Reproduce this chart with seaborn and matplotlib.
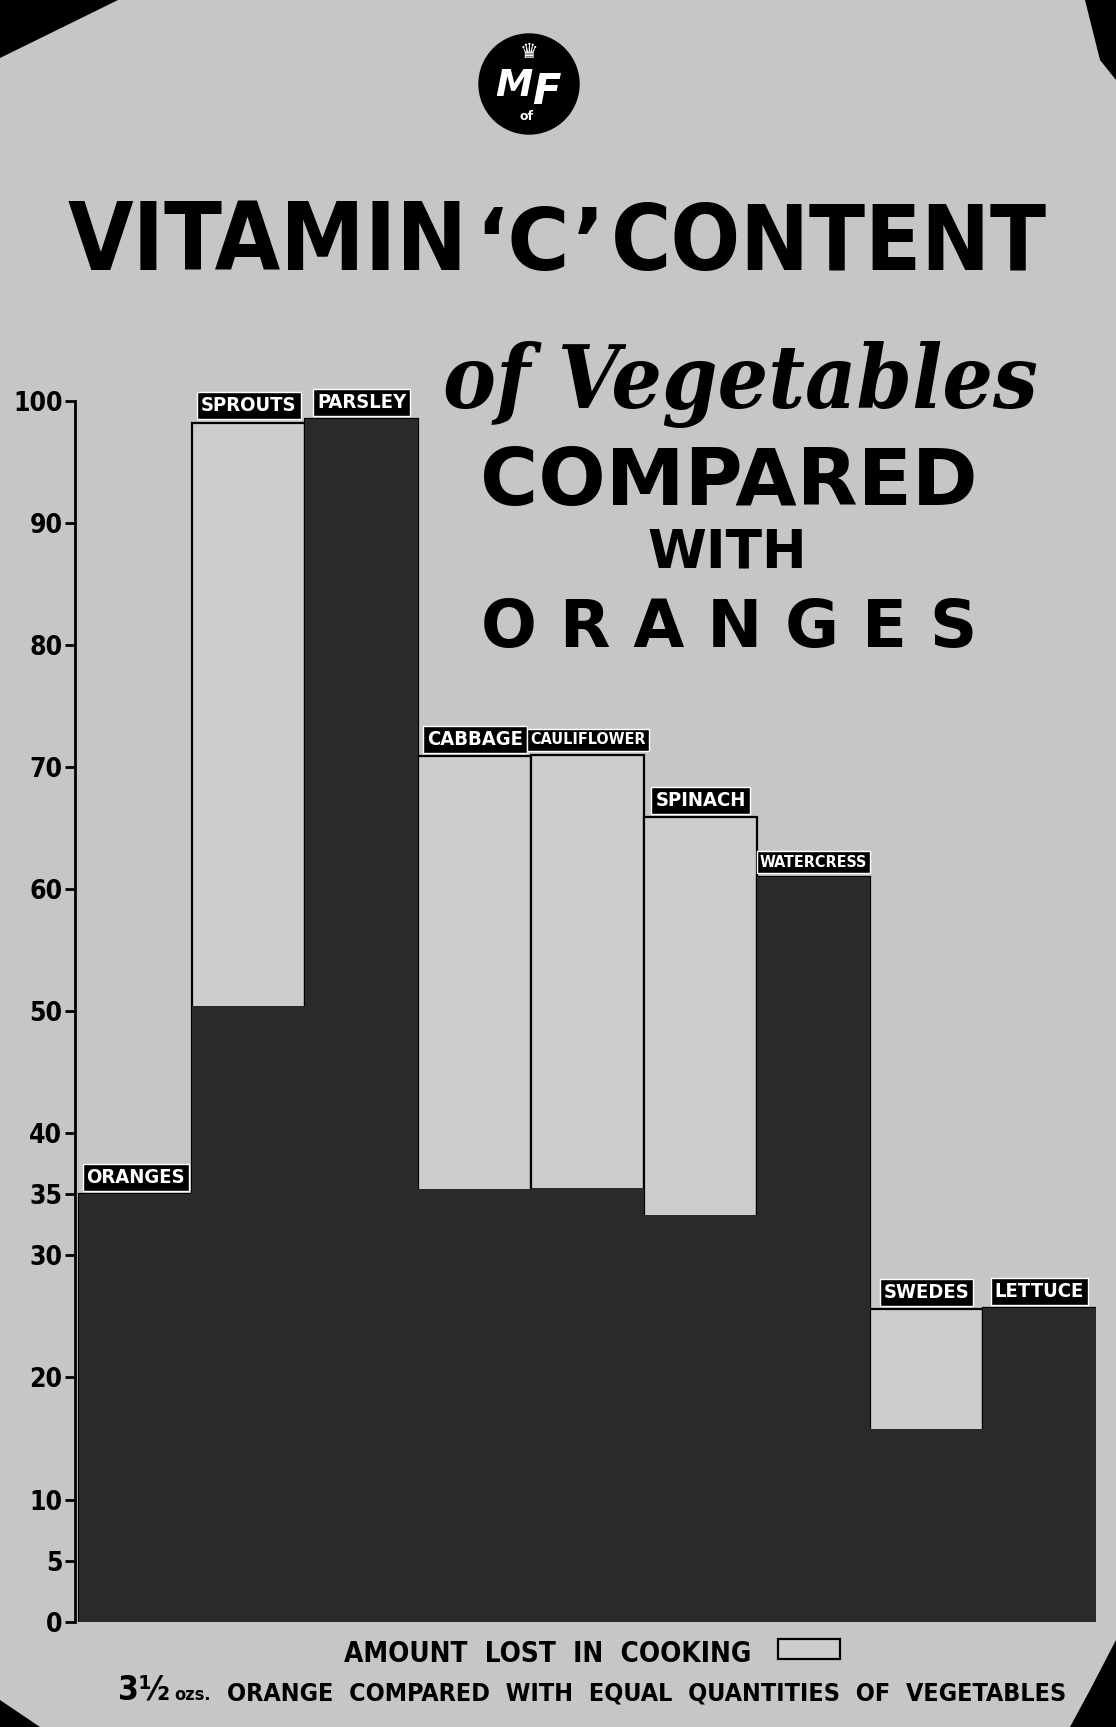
import matplotlib
matplotlib.use('Agg')
import matplotlib.pyplot as plt
import seaborn as sns
from matplotlib import font_manager
from matplotlib.patches import Ellipse, Rectangle, Polygon

# Values (mg vitamin C per 3 1/2 ozs.)
vegetables = ['ORANGES', 'SPROUTS', 'PARSLEY', 'CABBAGE', 'CAULIFLOWER',
              'SPINACH', 'WATERCRESS', 'SWEDES', 'LETTUCE']
raw_content = [35, 98.2, 98.5, 70.9, 71.0, 65.9, 61.0, 25.6, 25.7]
after_cooking = [35, 50.4, 98.5, 35.4, 35.5, 33.3, 61.0, 15.8, 25.7]
y_ticks = [0, 5, 10, 20, 30, 35, 40, 50, 60, 70, 80, 90, 100]

paper = '#c6c6c6'
box_fill = '#cdcdcd'
ink = '#2a2a2a'

sns.set_style('white')
available = {f.name for f in font_manager.fontManager.ttflist}
narrow = 'Liberation Sans Narrow' if 'Liberation Sans Narrow' in available else 'DejaVu Sans'
plt.rcParams['font.family'] = ['DejaVu Sans']

fig = plt.figure(figsize=(11.16, 17.27), dpi=100)
fig.patch.set_facecolor(paper)
ax = fig.add_axes([0.0671, 0.061, 0.915, 0.707])
ax.set_facecolor('none')

# light boxes = vitamin C before cooking, dark = what is left after
sns.barplot(x=vegetables, y=raw_content, order=vegetables, width=1.0, color=box_fill,
            edgecolor='black', linewidth=1.6, saturation=1, errorbar=None, ax=ax)
sns.barplot(x=vegetables, y=after_cooking, order=vegetables, width=1.0, color=ink,
            linewidth=0, saturation=1, errorbar=None, ax=ax)

ax.set_xlim(-0.54, 8.5)
ax.set_ylim(0, 100)
ax.set_xticks([])
ax.set_xlabel('')
ax.set_yticks(y_ticks)
ax.set_yticklabels([str(t) for t in y_ticks], fontfamily=narrow, fontweight='bold',
                   fontsize=19, fontstretch='condensed')
ax.tick_params(axis='y', length=7, width=2, color='black', labelcolor='black', pad=2, left=True)
for s in ['top', 'right', 'bottom']:
    ax.spines[s].set_visible(False)
ax.spines['left'].set_linewidth(2)
ax.spines['left'].set_color('black')

for i, name in enumerate(vegetables):
    small = len(name) > 8
    ax.text(i, raw_content[i] + 0.6, name, ha='center', va='bottom', color='white',
            fontfamily=narrow, fontweight='bold', fontstretch='condensed',
            fontsize=11.5 if small else 14.5,
            bbox=dict(boxstyle='square,pad=0.2', fc='black', ec='white', lw=1))

fig.canvas.draw()
renderer = fig.canvas.get_renderer()


def fit(t, width_px):
    w = t.get_window_extent(renderer).width
    t.set_fontsize(t.get_fontsize() * width_px / w)


W, H = 1116, 1727

# torn corners of the old poster
for pts in [[(0, 0), (118, 0), (0, 58)],
            [(1085, 0), (1116, 0), (1116, 80), (1100, 60)],
            [(0, 1700), (40, 1727), (0, 1727)],
            [(1090, 1690), (1116, 1640), (1116, 1727), (1070, 1727)]]:
    fig.patches.append(Polygon([(x / W, 1 - y / H) for x, y in pts], closed=True,
                               transform=fig.transFigure, fc='black', ec='none'))

# logo
fig.patches.append(Ellipse((529 / W, 1 - 84 / H), 100 / W, 100 / H, transform=fig.transFigure,
                           fc='black', ec='black'))
fig.text(529 / W, 1 - 52 / H, '\u265b', ha='center', va='center', color='white', fontsize=15)
fig.text(514 / W, 1 - 86 / H, 'M', ha='center', va='center', color='white',
         fontsize=27, fontweight='bold', fontstyle='italic')
fig.text(546 / W, 1 - 92 / H, 'F', ha='center', va='center', color='white',
         fontsize=30, fontweight='bold', fontstyle='italic')
fig.text(527 / W, 1 - 116 / H, 'of', ha='center', va='center', color='white',
         fontsize=9, fontweight='bold')

# title
t1 = fig.text(68 / W, 1 - 270 / H, 'VITAMIN', ha='left', va='baseline', color='black',
              fontfamily=narrow, fontweight='heavy', fontstretch='condensed', fontsize=80)
fit(t1, 400)
t2 = fig.text(540 / W, 1 - 270 / H, '\u2018C\u2019', ha='center', va='baseline', color='black',
              fontfamily='DejaVu Sans', fontweight='bold', fontsize=100)
fit(t2, 130)
t3 = fig.text(611 / W, 1 - 270 / H, 'CONTENT', ha='left', va='baseline', color='black',
              fontfamily=narrow, fontweight='heavy', fontstretch='condensed', fontsize=80)
fit(t3, 436)

t4 = fig.text(740 / W, 1 - 408 / H, 'of Vegetables', ha='center', va='baseline', color='black',
              fontfamily='DejaVu Serif', fontstyle='italic', fontweight='bold',
              fontstretch='condensed', fontsize=80)
fit(t4, 595)
t5 = fig.text(729 / W, 1 - 505 / H, 'COMPARED', ha='center', va='baseline', color='black',
              fontfamily='DejaVu Sans', fontweight='bold', fontsize=60)
fit(t5, 497)
t6 = fig.text(727 / W, 1 - 568 / H, 'WITH', ha='center', va='baseline', color='black',
              fontfamily='DejaVu Sans', fontweight='bold', fontsize=42)
fit(t6, 160)
t7 = fig.text(729 / W, 1 - 647 / H, 'O R A N G E S', ha='center', va='baseline', color='black',
              fontfamily='DejaVu Sans', fontweight='bold', fontsize=55)
fit(t7, 497)

# footer
t8 = fig.text(548 / W, 1 - 1662 / H, 'AMOUNT  LOST  IN  COOKING', ha='center', va='baseline',
              color='black', fontfamily=narrow, fontweight='bold', fontstretch='condensed',
              fontsize=22)
fit(t8, 406)
fig.patches.append(Rectangle((778 / W, 1 - 1659 / H), 62 / W, 20 / H,
                             transform=fig.transFigure, fc=box_fill, ec='black', lw=1.6))
t9 = fig.text(118 / W, 1 - 1700 / H, '3\u00bd', ha='left', va='baseline', color='black',
              fontfamily=narrow, fontweight='bold', fontstretch='condensed', fontsize=24)
fig.canvas.draw()
x_end = t9.get_window_extent(renderer).x1
fig.text((x_end + 4) / W, 1 - 1700 / H, 'ozs.', ha='left', va='baseline', color='black',
         fontfamily=narrow, fontweight='bold', fontstretch='condensed', fontsize=13)
t10 = fig.text(1066 / W, 1 - 1700 / H,
               'ORANGE  COMPARED  WITH  EQUAL  QUANTITIES  OF  VEGETABLES',
               ha='right', va='baseline', color='black', fontfamily=narrow, fontweight='bold',
               fontstretch='condensed', fontsize=24)
fit(t10, 840)

fig.savefig('out.png', dpi=100, facecolor=paper)
